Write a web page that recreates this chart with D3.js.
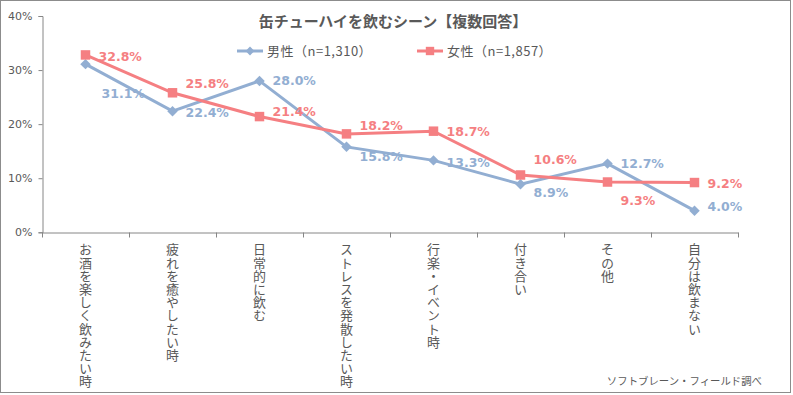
<!DOCTYPE html>
<html>
<head>
<meta charset="utf-8">
<script src="https://cdn.jsdelivr.net/npm/d3@7"></script>
<style>
body { margin: 0; background: #fff; }
svg { display: block; font-family: "Noto Sans CJK JP", "Liberation Sans", sans-serif; }
</style>
</head>
<body>
<svg width="793" height="395"></svg>
<script>
// Data
var categories = ["お酒を楽しく飲みたい時", "疲れを癒やしたい時", "日常的に飲む", "ストレスを発散したい時",
    "行楽・イベント時", "付き合い", "その他", "自分は飲まない"];
var male = [31.1, 22.4, 28.0, 15.8, 13.3, 8.9, 12.7, 4.0];
var female = [32.8, 25.8, 21.4, 18.2, 18.7, 10.6, 9.3, 9.2];
var yTicks = [0, 10, 20, 30, 40];
var seriesNames = ["男性（n=1,310）", "女性（n=1,857）"];

// label offsets (vertical) relative to each point
var maleLabelDy = [29, 1, 0, 10, 2, 8, 0, -4];
var femaleLabelDy = [2, -9, -5, -8, 0, -15, 18, 1];

var svg = d3.select("svg"),
    width = +svg.attr("width"),
    height = +svg.attr("height");

var maleColor = "#92AED2",
    femaleColor = "#F57F82",
    textColor = "#595959",
    axisColor = "#868686";

// outer frame
svg.append("rect")
    .attr("x", 0.5).attr("y", 0.5)
    .attr("width", 790).attr("height", 392)
    .attr("fill", "#fff")
    .attr("stroke", "#8c8c8c");

var x = d3.scaleBand()
    .domain(categories)
    .range([42, 738]);

var y = d3.scaleLinear()
    .domain([0, 40])
    .range([232.3, 16]);

// y axis
var yAxis = svg.append("g")
    .attr("transform", "translate(42.5,0)")
    .call(d3.axisLeft(y).tickValues(yTicks).tickSize(4).tickPadding(6).tickFormat(function(d) { return d + "%"; }));
yAxis.select(".domain").attr("stroke", axisColor);
yAxis.selectAll(".tick line").attr("stroke", axisColor);
yAxis.selectAll("text").attr("fill", textColor).style("font-size", "11px").style("font-family", "DejaVu Sans, sans-serif");

// x axis
var xAxis = svg.append("g")
    .attr("transform", "translate(0,232.5)")
    .call(d3.axisBottom(x).tickSize(0).tickFormat(""));
xAxis.select(".domain").attr("stroke", axisColor);
xAxis.selectAll(".tick").remove();
xAxis.selectAll(".sep")
    .data(categories.concat([null]))
    .enter().append("line")
    .attr("x1", function(d, i) { return Math.round(42 + i * x.bandwidth()) + 0.5; })
    .attr("x2", function(d, i) { return Math.round(42 + i * x.bandwidth()) + 0.5; })
    .attr("y1", 0).attr("y2", 5)
    .attr("stroke", axisColor);

// category labels (vertical)
svg.append("g")
    .selectAll("text")
    .data(categories)
    .enter().append("text")
    .attr("x", function(d) { return x(d) + x.bandwidth() / 2; })
    .attr("y", 243)
    .style("writing-mode", "vertical-rl")
    .style("font-size", "13px")
    .style("letter-spacing", "0.2px")
    .attr("fill", textColor)
    .text(function(d) { return d; });

var line = d3.line()
    .x(function(d, i) { return x(categories[i]) + x.bandwidth() / 2; })
    .y(function(d) { return y(d); });

function drawSeries(values, color, shape, size, dys) {
    var g = svg.append("g");
    g.append("path")
        .attr("d", line(values))
        .attr("fill", "none")
        .attr("stroke", color)
        .attr("stroke-width", 3);
    g.selectAll(".pt")
        .data(values)
        .enter().append("path")
        .attr("d", d3.symbol().type(shape).size(size))
        .attr("transform", function(d, i) {
            return "translate(" + (x(categories[i]) + x.bandwidth() / 2) + "," + y(d) + ")";
        })
        .attr("fill", color);
    g.selectAll(".lbl")
        .data(values)
        .enter().append("text")
        .attr("x", function(d, i) { return x(categories[i]) + x.bandwidth() / 2 + (i === 0 && dys[0] > 10 ? 16 : 13); })
        .attr("y", function(d, i) { return y(d) + dys[i]; })
        .attr("dy", "0.36em")
        .attr("fill", color)
        .style("font-size", "12.5px")
        .style("font-weight", "bold")
        .style("font-family", "DejaVu Sans, sans-serif")
        .text(function(d) { return d.toFixed(1) + "%"; });
}

drawSeries(male, maleColor, d3.symbolDiamond2, 70, maleLabelDy);
drawSeries(female, femaleColor, d3.symbolSquare, 90, femaleLabelDy);

// title
svg.append("text")
    .attr("x", 393)
    .attr("y", 22)
    .attr("dy", "0.36em")
    .attr("text-anchor", "middle")
    .attr("fill", textColor)
    .style("font-size", "15px")
    .style("font-weight", "bold")
    .text("缶チューハイを飲むシーン【複数回答】");

// legend
var legendX = [237, 417];
var legendColors = [maleColor, femaleColor];
var legendShapes = [d3.symbolDiamond2, d3.symbolSquare];
var legendSizes = [50, 70];
var legend = svg.append("g")
    .selectAll("g")
    .data(seriesNames)
    .enter().append("g")
    .attr("transform", function(d, i) { return "translate(" + legendX[i] + ",51)"; });
legend.append("line")
    .attr("x1", 0).attr("x2", 26)
    .attr("stroke", function(d, i) { return legendColors[i]; })
    .attr("stroke-width", 3);
legend.append("path")
    .attr("d", function(d, i) { return d3.symbol().type(legendShapes[i]).size(legendSizes[i])(); })
    .attr("transform", "translate(13,0)")
    .attr("fill", function(d, i) { return legendColors[i]; });
legend.append("text")
    .attr("x", 30)
    .attr("dy", "0.36em")
    .attr("fill", textColor)
    .style("font-size", "13px")
    .style("letter-spacing", "0.5px")
    .text(function(d) { return d; });

// source
svg.append("text")
    .attr("x", 762)
    .attr("y", 381)
    .attr("dy", "0.36em")
    .attr("text-anchor", "end")
    .attr("fill", textColor)
    .style("font-size", "10.4px")
    .text("ソフトブレーン・フィールド調べ");
</script>
</body>
</html>
